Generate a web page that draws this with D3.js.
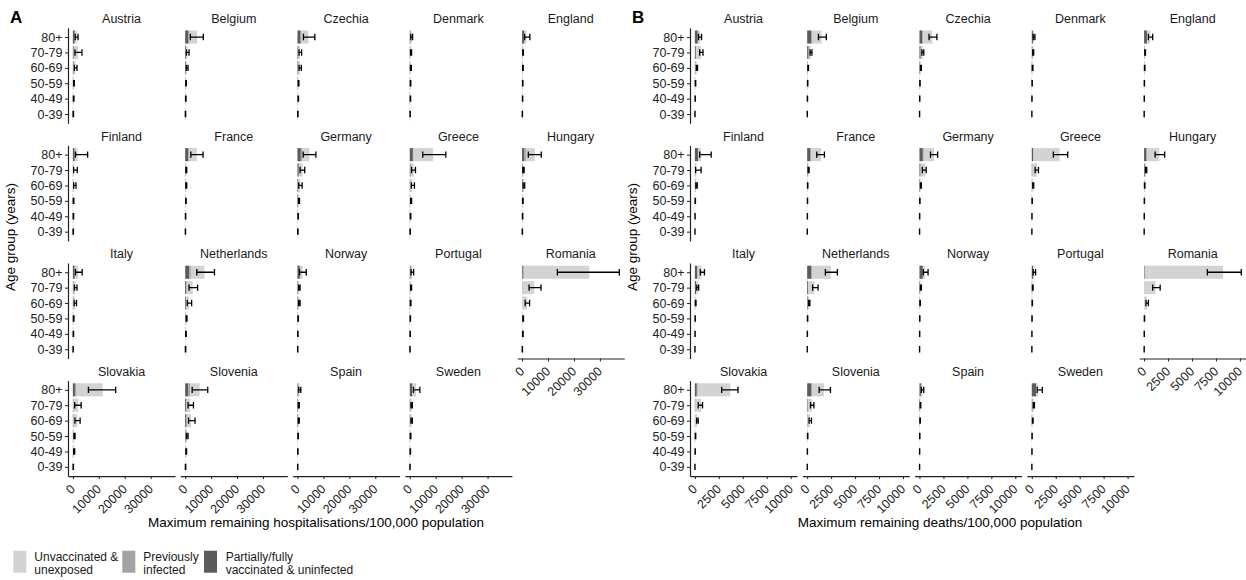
<!DOCTYPE html>
<html>
<head>
<meta charset="utf-8">
<script src="https://cdn.jsdelivr.net/npm/d3@7"></script>
<style>
  body { margin: 0; background: #fff; }
  svg { display: block; }
  text { font-family: "Liberation Sans", Arial, sans-serif; }
</style>
</head>
<body>
<svg width="1246" height="580"></svg>
<script>
// facet order (row-wise, 5 per row)
var countries = ["Austria", "Belgium", "Czechia", "Denmark", "England",
                 "Finland", "France", "Germany", "Greece", "Hungary",
                 "Italy", "Netherlands", "Norway", "Portugal", "Romania",
                 "Slovakia", "Slovenia", "Spain", "Sweden"];
var ages = ["0-39", "40-49", "50-59", "60-69", "70-79", "80+"];
var groups = ["Unvaccinated &\nunexposed", "Previously\ninfected", "Partially/fully\nvaccinated & uninfected"];

// A: hospitalisations /100,000, per country, ages 0-39 .. 80+
var hospVacc = [
  [40,100,150,300,300,700], [40,80,120,250,300,1300], [40,80,120,300,300,1200], [60,100,120,150,200,300], [40,80,100,150,150,800],
  [40,60,80,150,150,700], [30,50,100,150,150,1200], [50,80,200,300,500,1300], [40,80,120,200,300,1200], [40,80,100,250,200,900],
  [30,60,100,200,250,700], [40,80,120,300,400,1600], [40,60,100,250,250,900], [40,60,80,120,200,350], [10,20,30,50,80,300],
  [30,80,100,150,150,800], [40,100,200,400,350,1200], [40,60,100,200,200,350], [40,80,120,250,250,900]
];
var hospPrev = [
  [20,40,50,100,200,200], [20,30,40,80,100,400], [20,40,50,100,150,400], [10,20,20,30,40,60], [10,20,20,30,30,150],
  [10,10,20,30,30,100], [10,20,30,50,50,500], [20,30,50,100,150,500], [20,30,50,80,100,300], [20,40,60,150,100,600],
  [10,20,30,60,80,200], [20,40,60,150,250,600], [10,10,20,30,30,100], [10,10,20,30,40,80], [10,20,30,80,150,400],
  [20,60,80,200,200,600], [20,60,120,300,250,700], [10,10,20,40,40,80], [10,20,30,60,60,200]
];
var hospUnvac = [
  [90,160,200,600,1500,600], [60,140,190,370,500,2900], [90,180,230,600,550,2600], [80,130,160,220,260,340], [50,100,130,120,170,750],
  [100,130,150,320,320,1000], [60,80,170,200,200,2800], [80,140,350,600,1350,2800], [90,190,330,720,1100,7500], [40,80,140,300,200,3400],
  [60,120,170,540,670,1200], [90,180,320,1050,2250,5200], [50,80,130,420,420,1000], [50,80,100,150,260,370], [80,260,340,1870,4470,25200],
  [100,360,420,1350,1750,10100], [90,240,480,1600,1400,3700], [50,80,130,260,260,370], [50,100,150,390,390,1300]
];
var hospLo = [
  [80,200,280,600,800,900], [60,150,250,400,500,2000], [80,200,280,600,600,2300], [100,180,220,250,300,400], [60,150,180,200,250,1000],
  [80,120,150,300,300,1000], [60,100,200,250,250,2200], [80,170,400,500,1000,2200], [80,200,350,600,700,5000], [60,130,200,400,300,2400],
  [60,130,200,500,600,1000], [80,200,350,800,1500,4500], [60,100,170,450,450,800], [60,100,140,200,350,500], [60,200,280,1200,2700,13600],
  [80,300,400,800,700,6000], [80,250,500,1300,1100,2700], [60,100,170,300,300,500], [60,130,200,450,450,1400]
];
var hospHi = [
  [250,420,550,1600,3500,2000], [200,350,450,1100,1500,7000], [220,400,550,1500,1600,6700], [200,330,400,600,700,1100], [150,260,320,450,500,3000],
  [230,300,380,1200,1700,5700], [150,220,400,600,600,6900], [230,350,800,1800,2800,7100], [230,400,700,1800,2200,13900], [150,280,420,1000,800,7400],
  [150,280,420,1400,1600,3600], [230,420,700,2500,4800,11300], [150,220,350,1000,1000,3400], [150,220,280,450,700,1500], [150,420,550,2900,7300,37500],
  [230,700,850,2800,3200,16500], [230,550,1100,3800,3200,8700], [150,220,350,700,700,1300], [150,280,420,1000,1000,3900]
];

// B: deaths /100,000
var deathVacc = [
  [3,10,20,60,100,300], [4,10,20,40,150,450], [4,10,20,50,120,300], [4,8,15,40,80,120], [4,8,12,30,50,300],
  [4,8,15,60,50,350], [4,8,12,20,60,350], [4,8,15,50,100,350], [3,6,12,40,60,150], [4,8,12,25,80,250],
  [4,8,12,30,120,250], [4,8,15,70,100,450], [4,8,12,25,60,350], [4,6,10,20,50,150], [1,2,3,5,10,60],
  [2,5,10,30,40,200], [3,6,15,40,60,400], [4,6,12,25,50,150], [4,8,12,40,80,450]
];
var deathPrev = [
  [1,3,5,20,50,50], [1,2,5,10,30,100], [1,2,5,10,30,100], [1,1,3,5,8,15], [1,1,3,5,8,40],
  [1,1,2,5,5,30], [1,2,3,5,15,80], [1,2,3,10,40,100], [1,1,3,10,20,50], [1,2,3,5,20,100],
  [1,1,3,5,20,50], [1,2,4,15,40,100], [1,1,2,3,5,30], [1,1,2,3,5,15], [1,2,3,10,30,100],
  [1,3,5,20,40,100], [1,2,5,20,30,100], [1,1,2,5,8,20], [1,1,2,5,10,40]
];
var deathUnvac = [
  [6,17,35,120,500,200], [5,13,25,50,220,950], [5,13,25,90,200,930], [5,11,22,35,62,65], [5,11,15,25,42,310],
  [5,11,23,85,95,270], [5,10,15,25,75,1020], [5,10,22,90,460,1070], [6,13,25,100,470,2700], [5,10,15,30,100,1250],
  [5,11,15,45,160,400], [5,10,21,115,620,1920], [5,11,16,32,85,190], [5,8,13,27,45,85], [8,16,34,285,1160,8090],
  [7,22,45,200,570,3400], [6,12,30,240,410,1250], [5,8,16,30,42,130], [5,11,16,55,110,160]
];
var deathLo = [
  [5,20,40,150,500,380], [5,15,35,70,300,1180], [5,15,35,100,250,1000], [5,12,25,50,100,150], [5,12,20,40,70,450],
  [5,12,25,100,80,500], [5,12,20,35,100,1000], [5,12,25,100,300,1150], [5,12,25,100,350,2250], [5,12,20,40,150,1150],
  [5,12,20,50,200,570], [5,12,25,150,570,1900], [5,12,20,40,100,400], [5,10,15,35,70,150], [5,12,25,200,900,6600],
  [5,20,40,180,350,2800], [5,12,35,200,350,1250], [5,10,20,40,70,200], [5,12,20,70,150,570]
];
var deathHi = [
  [20,45,90,280,850,700], [18,40,70,140,500,2000], [18,40,70,200,450,1820], [18,30,55,120,200,330], [18,30,45,90,150,900],
  [18,30,60,250,650,1700], [18,30,45,70,200,1800], [18,30,60,200,700,1900], [18,30,60,200,700,3750], [18,30,45,90,280,2150],
  [18,30,45,120,400,1000], [18,30,60,280,1140,3150], [18,30,45,90,200,900], [18,25,40,70,140,400], [18,30,60,450,1680,10150],
  [18,45,90,350,800,4500], [18,30,70,450,700,2430], [18,25,45,90,140,450], [18,30,45,140,280,1100]
];

var hospTicks = [0, 10000, 20000, 30000];
var deathTicks = [0, 2500, 5000, 7500, 10000];

var fills = ["#d3d3d3", "#a3a3a3", "#5c5c5c"];  // unvac, prev, vacc

var svg = d3.select("svg");

var facetW = 107, facetH = 95.5, stepX = 112.3, stepY = 117.6, top0 = 27.8;

var drawPanel = function(o) {
  var g = svg.append("g");
  var maxV = d3.max(o.hi, function(r) { return d3.max(r); });
  var x = d3.scaleLinear().domain([-0.05 * maxV, 1.05 * maxV]).range([0, facetW]);
  var y = d3.scalePoint().domain(ages.slice().reverse()).range([0, facetH]).padding(0.6);
  var bh = y.step() * 0.85;

  // panel letter
  g.append("text").attr("x", o.left - 58).attr("y", 23)
    .attr("font-size", 17).attr("font-weight", "bold").text(o.letter);

  countries.forEach(function(c, i) {
    var col = i % 5, row = Math.floor(i / 5);
    var fg = g.append("g")
      .attr("transform", "translate(" + (o.left + col * stepX) + "," + (top0 + row * stepY) + ")");

    fg.append("text").attr("x", facetW / 2).attr("y", -9).attr("dy", "0.35em")
      .attr("text-anchor", "middle").attr("font-size", 12.5).attr("fill", "#1a1a1a").text(c);

    ages.forEach(function(a, j) {
      var segs = [o.vacc[i][j], o.prev[i][j], o.unvac[i][j]];
      var segFill = [fills[2], fills[1], fills[0]];
      var acc = 0;
      segs.forEach(function(v, k) {
        fg.append("rect")
          .attr("x", x(acc)).attr("y", y(a) - bh / 2)
          .attr("width", Math.max(0, x(acc + v) - x(acc))).attr("height", bh)
          .attr("fill", segFill[k]);
        acc += v;
      });
      var lo = x(o.lo[i][j]), hi = x(o.hi[i][j]), yy = y(a), cap = 3.2;
      fg.append("path")
        .attr("d", "M" + lo + "," + yy + "H" + hi +
                   "M" + lo + "," + (yy - cap) + "V" + (yy + cap) +
                   "M" + hi + "," + (yy - cap) + "V" + (yy + cap))
        .attr("stroke", "#000").attr("stroke-width", 1.3).attr("fill", "none");
    });

    if (col === 0) {
      var ya = fg.append("g").call(d3.axisLeft(y).tickSize(3).tickSizeOuter(0).tickPadding(2.5));
      ya.selectAll("text").attr("font-size", 12.5).attr("fill", "#222").attr("font-family", "Liberation Sans, Arial, sans-serif");
      ya.select(".domain").attr("stroke", "#222").attr("stroke-width", 1.2);
      ya.selectAll(".tick line").attr("stroke", "#222");
    }

    var last = (row === 3) || (col === 4 && row === 2);
    if (last) {
      var xa = fg.append("g").attr("transform", "translate(0," + facetH + ")")
        .call(d3.axisBottom(x).tickValues(o.ticks).tickSize(3).tickSizeOuter(0).tickFormat(d3.format("d")));
      xa.select(".domain").attr("stroke", "#222").attr("stroke-width", 1.2);
      xa.selectAll(".tick line").attr("stroke", "#222");
      xa.selectAll("text")
        .attr("font-size", 12.5).attr("fill", "#222").attr("font-family", "Liberation Sans, Arial, sans-serif")
        .attr("text-anchor", "end").attr("y", 0).attr("dy", "0.75em")
        .attr("transform", "translate(-4,7) rotate(-45)");
    }
  });

  // axis titles
  g.append("text").attr("x", o.titleX).attr("y", 522).attr("dy", "0.35em")
    .attr("text-anchor", "middle").attr("font-size", 13.5).attr("fill", "#000").text(o.title);
  g.append("text")
    .attr("transform", "translate(" + (o.left - 58) + ",237) rotate(-90)")
    .attr("dy", "0.35em").attr("text-anchor", "middle").attr("font-size", 13.5).attr("fill", "#000")
    .text("Age group (years)");
};

drawPanel({
  left: 68, letter: "A", vacc: hospVacc, prev: hospPrev, unvac: hospUnvac, lo: hospLo, hi: hospHi,
  ticks: hospTicks, title: "Maximum remaining hospitalisations/100,000 population", titleX: 316
});
drawPanel({
  left: 690, letter: "B", vacc: deathVacc, prev: deathPrev, unvac: deathUnvac, lo: deathLo, hi: deathHi,
  ticks: deathTicks, title: "Maximum remaining deaths/100,000 population", titleX: 940
});

// legend
var legX = [13.3, 122.3, 204], legTextX = [34.3, 143.3, 225.7];
var leg = svg.append("g");
groups.forEach(function(gname, k) {
  leg.append("rect").attr("x", legX[k]).attr("y", 550.7).attr("width", 13).attr("height", 22).attr("fill", fills[k]);
  var t = leg.append("text").attr("x", legTextX[k]).attr("y", 556.7).attr("font-size", 12).attr("fill", "#1a1a1a");
  gname.split("\n").forEach(function(line, m) {
    t.append("tspan").attr("x", legTextX[k]).attr("dy", m === 0 ? "0.35em" : "1.05em").text(line);
  });
});
</script>
</body>
</html>
